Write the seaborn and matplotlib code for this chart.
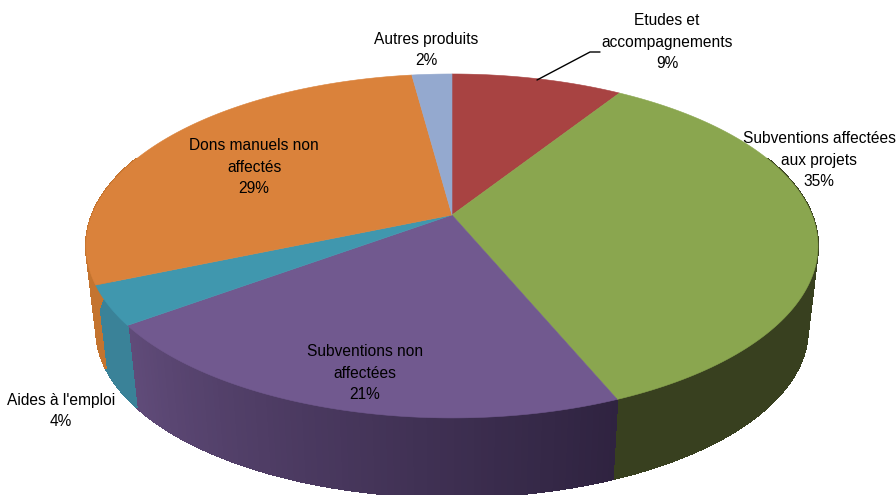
import numpy as np
import seaborn as sns
import matplotlib
matplotlib.use("Agg")
import matplotlib.pyplot as plt

# clockwise from 12 o'clock, same order as the reference
labels = ["Etudes et\naccompagnements\n9%", "Subventions affectées\naux projets\n35%",
          "Subventions non\naffectées\n21%", "Aides à l'emploi\n4%",
          "Dons manuels non\naffectés\n29%", "Autres produits\n2%"]
values = [9, 34.75, 21.15, 3.7, 29.3, 2.1]
top_colors = ["#a84342", "#8aa64f", "#71598f", "#4097ae", "#da823b", "#94a9cf"]
side_left = ["#7a3030", "#38401f", "#604b79", "#3a8298", "#c4742f", "#6f80a0"]
side_right = ["#7a3030", "#38401f", "#2f2340", "#3a8298", "#c4742f", "#6f80a0"]
label_pos = [(667, 42), (819, 160), (365, 373), (61, 411), (254, 167), (426, 50)]

sns.set_theme(style="white")
plt.rcParams["font.family"] = ["Liberation Sans", "DejaVu Sans"]

# perspective of the tilted disc, in pixels
CX, CY = 452, 215
A, B, K = 360, 166.4, 0.18
BOTTOM_SCALE, DROP = 0.972, 85


def project(theta, r=1.0):
    u, v = r * np.sin(theta), r * np.cos(theta)
    w = 1 + K * v
    return A * u / w, B * v / w


def top_face(theta, r=1.0):
    x, y = project(theta, r)
    return CX + x, CY - y


def bottom_face(theta):
    x, y = project(theta)
    return CX + BOTTOM_SCALE * x, CY - BOTTOM_SCALE * y + DROP


fig = plt.figure(figsize=(8.96, 4.95), dpi=100)
ax = fig.add_axes([0, 0, 1, 1])
ax.set_xlim(0, 896)
ax.set_ylim(495, 0)
ax.axis("off")

edges = np.cumsum([0] + values) / sum(values) * 2 * np.pi

# side wall, split in thin strips for the shading
for i in range(len(values)):
    th = np.linspace(edges[i], edges[i + 1], int(values[i]) * 4 + 2)
    n = len(th) - 1
    # clockwise on the front means right to left on screen
    shades = sns.blend_palette([side_right[i], side_left[i]], n)
    for j in range(n):
        a, b = th[j], th[j + 1]
        if np.cos(a) > 0.35 and np.cos(b) > 0.35:
            continue
        arc = np.linspace(a, b, 4)
        x1, y1 = top_face(arc)
        x2, y2 = bottom_face(arc[::-1])
        # no antialiasing here, otherwise seams show between the strips
        ax.fill(np.r_[x1, x2], np.r_[y1, y2], color=shades[j], lw=0.8,
                antialiased=False, zorder=1)

# top face
for i in range(len(values)):
    arc = np.linspace(edges[i], edges[i + 1], 120)
    x, y = top_face(arc)
    ax.fill(np.r_[CX, x], np.r_[CY, y], color=top_colors[i], lw=0.4, zorder=2)

# leader line of the first label
ax.plot([537, 590, 600], [80, 52, 52], color="black", lw=1, zorder=3)

for text, (x, y) in zip(labels, label_pos):
    ax.text(x, y, text, ha="center", va="center", fontsize=11.2,
            color="black", linespacing=1.55, zorder=4)

fig.savefig("out.png", dpi=100)
